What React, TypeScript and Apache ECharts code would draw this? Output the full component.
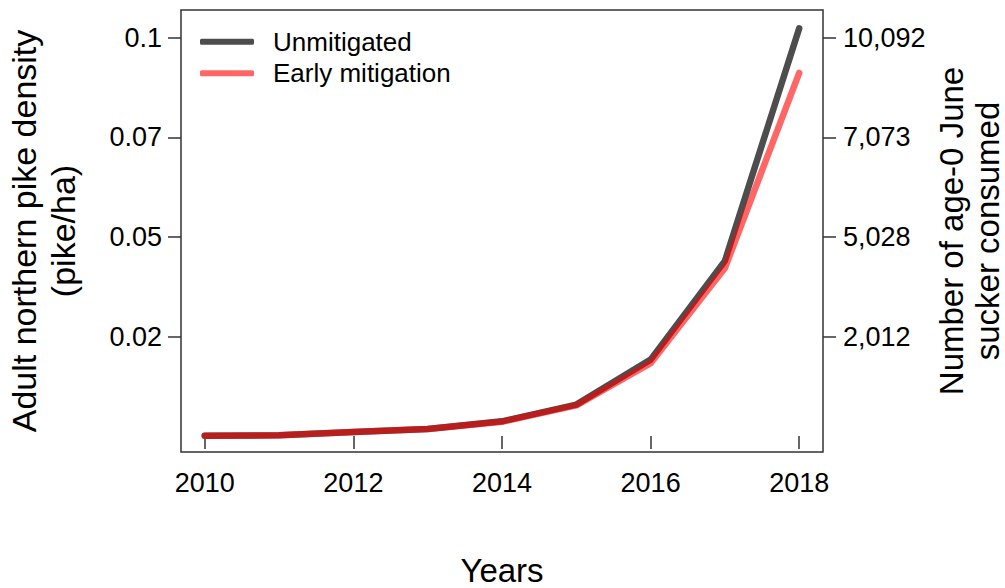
import React, { useEffect, useRef } from "react";
import * as echarts from "echarts";

const years = [2010, 2011, 2012, 2013, 2014, 2015, 2016, 2017, 2018];
const unmitigated = [0.0001, 0.0002, 0.001, 0.0018, 0.0037, 0.0079, 0.0192, 0.044, 0.1024];
const earlyMitigation = [0.0001, 0.0002, 0.001, 0.0018, 0.0036, 0.0077, 0.0183, 0.0422, 0.0912];

const xTicks = [2010, 2012, 2014, 2016, 2018];
const yTickValues = [0.025, 0.05, 0.075, 0.1];
const leftTickLabels = ["0.02", "0.05", "0.07", "0.1"];
const rightTickLabels = ["2,012", "5,028", "7,073", "10,092"];

const FONT = "'Liberation Sans', Arial, sans-serif";
const AXIS_COLOR = "#333333";

function labelFor(labels: string[]) {
  return (v: number) => {
    const i = yTickValues.findIndex((t) => Math.abs(t - v) < 1e-6);
    return i >= 0 ? labels[i] : "";
  };
}

export default function App() {
  const ref = useRef<HTMLDivElement>(null);
  useEffect(() => {
    if (!ref.current) return;
    const chart = echarts.init(ref.current, null, { renderer: "svg" });
    const zip = (ys: number[]) => years.map((y, i) => [y, ys[i]]);
    const yAxisBase = {
      type: "value",
      min: -0.004,
      max: 0.107,
      splitLine: { show: false },
      axisLine: { show: false },
      axisTick: {
        show: true,
        length: 13,
        customValues: yTickValues,
        lineStyle: { color: AXIS_COLOR, width: 1.5 },
      },
      nameLocation: "middle",
      nameRotate: 90,
      nameMoveOverlap: false,
    };
    chart.setOption({
      animation: false,
      backgroundColor: "#ffffff",
      grid: {
        left: 181,
        right: 182,
        top: 10,
        bottom: 136,
        show: true,
        borderColor: AXIS_COLOR,
        borderWidth: 1.5,
        containLabel: false,
        outerBoundsMode: "none",
      },
      legend: {
        data: [
          { name: "Unmitigated", icon: "roundRect" },
          { name: "Early mitigation", icon: "roundRect" },
        ],
        orient: "vertical",
        left: 200,
        top: 27.7,
        padding: 0,
        itemWidth: 54,
        itemHeight: 6,
        itemGap: 3.6,
        textStyle: {
          fontFamily: FONT,
          fontSize: 26,
          color: "#000",
          lineHeight: 28,
          padding: [0, 0, 0, 14],
        },
      },
      xAxis: {
        type: "value",
        min: 2009.68,
        max: 2018.32,
        splitLine: { show: false },
        axisLine: { show: false },
        axisTick: {
          show: true,
          length: 13,
          customValues: xTicks,
          lineStyle: { color: AXIS_COLOR, width: 1.5 },
        },
        axisLabel: {
          customValues: xTicks,
          margin: 17,
          fontFamily: FONT,
          fontSize: 27,
          color: "#000",
          formatter: (v: number) => String(v),
        },
        name: "Years",
        nameLocation: "middle",
        nameGap: 104,
        nameMoveOverlap: false,
        nameTextStyle: { fontFamily: FONT, fontSize: 33, color: "#000", lineHeight: 28 },
      },
      yAxis: [
        {
          ...yAxisBase,
          position: "left",
          name: "Adult northern pike density\n(pike/ha)",
          nameGap: 99,
          nameTextStyle: { fontFamily: FONT, fontSize: 34, color: "#000", lineHeight: 39, align: "center" },
          axisLabel: {
            customValues: yTickValues,
            margin: 19,
            fontFamily: FONT,
            fontSize: 27,
            color: "#000",
            formatter: labelFor(leftTickLabels),
          },
        },
        {
          ...yAxisBase,
          position: "right",
          name: "Number of age-0 June\nsucker consumed",
          nameGap: 110,
          nameTextStyle: { fontFamily: FONT, fontSize: 33, color: "#000", lineHeight: 36, align: "center" },
          axisLabel: {
            customValues: yTickValues,
            margin: 20,
            fontFamily: FONT,
            fontSize: 27,
            color: "#000",
            formatter: labelFor(rightTickLabels),
          },
        },
      ],
      series: [
        {
          name: "Unmitigated",
          type: "line",
          data: zip(unmitigated),
          symbol: "none",
          color: "#4d4d4d",
          lineStyle: { color: "#4d4d4d", width: 6.5, cap: "round", join: "round" },
          z: 2,
        },
        {
          name: "Early mitigation",
          type: "line",
          data: zip(earlyMitigation),
          symbol: "none",
          color: "rgba(255,0,0,0.6)",
          lineStyle: { color: "rgba(255,0,0,0.6)", width: 6.5, cap: "round", join: "round" },
          z: 3,
        },
      ],
    });
    return () => chart.dispose();
  }, []);
  return (
    <div
      ref={ref}
      style={{ position: "fixed", left: 0, top: 0, width: 1005, height: 588, background: "#fff" }}
    />
  );
}
